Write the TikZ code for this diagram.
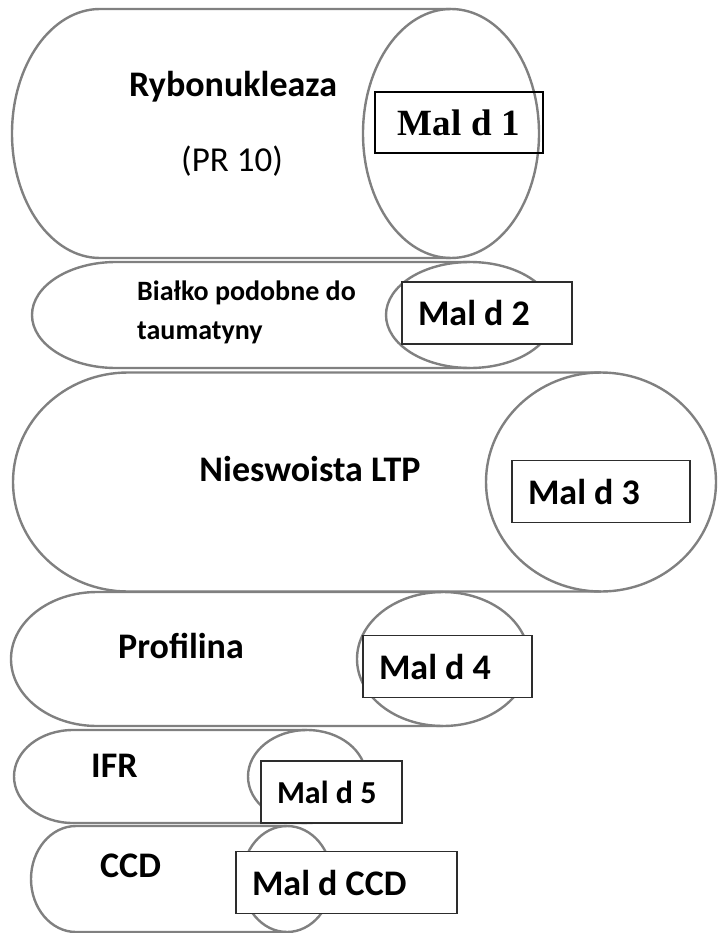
\documentclass[tikz,border=0pt]{standalone}
\usepackage{fontspec}
\newfontfamily\labfont{Carlito}
\newfontfamily\malfont{Liberation Serif}
\definecolor{rim}{RGB}{128,128,128}
\definecolor{boxline}{RGB}{45,45,45}

% allergen cylinder: {left cap x}{end ellipse x}{centre y}{x radius}{y radius}
\newcommand{\allergen}[5]{%
  \draw[rimline] (#2,#3-#5) -- (#1,#3-#5)
    arc[start angle=270,end angle=90,x radius=#4,y radius=#5] -- (#2,#3+#5);
  \draw[rimline] (#2,#3) ellipse[x radius=#4,y radius=#5];
}

\begin{document}
\begin{tikzpicture}[x=1pt,y=-1pt,
            rimline/.style={draw=rim,line width=2.4pt},
            lab/.style={font=\labfont\bfseries\fontsize{36}{40}\selectfont,inner sep=0pt,anchor=base west},
            small/.style={lab,font=\labfont\bfseries\fontsize{28}{32}\selectfont},
            malbox/.style={draw=boxline,fill=white,line width=1.4pt,inner xsep=16pt,inner ysep=0pt,
                           minimum height=62pt,align=left,font=\labfont\bfseries\fontsize{36}{40}\selectfont,
                           execute at begin node={\spaceskip=0pt\xspaceskip=0pt}}
          ]
          \useasboundingbox (0,0) rectangle (717,933);

          %cylinders
          \allergen{100}{451}{133.5}{88}{124.5}
          \allergen{116}{470}{315}{84}{53}
          \allergen{128}{601}{482}{115}{109.5}
          \allergen{97}{443}{659}{86}{67}
          \allergen{73}{307}{776.5}{59}{46.5}
          \allergen{76}{287}{879}{45}{53}

          %labels
          \node[lab,anchor=base] (ryb) at (233,97) {Rybonukleaza};
          \node[lab,anchor=base,font=\labfont\fontsize{35}{40}\selectfont] (pr10) at (232,172) {(PR 10)};
          \node[small] (bia) at (137,300) {Białko podobne do};
          \node[small] (tau) at (137,339) {taumatyny};
          \node[lab,anchor=base] (ltp) at (310,481) {Nieswoista LTP};
          \node[lab] (pro) at (118,658) {Profilina};
          \node[lab] (ifr) at (91,777) {IFR};
          \node[lab] (ccd) at (100,877) {CCD};

          %allergen boxes
          \node[malbox,fill=none,draw=black,text width=136pt,align=center,
                font=\malfont\bfseries\fontsize{37}{40}\selectfont,minimum height=61pt] (mal1) at (459,122.5) {Mal d 1};
          \node[malbox,text width=138pt] (mal2) at (487,313) {Mal d 2};
          \node[malbox,text width=146pt] (mal3) at (601,491.5) {Mal d 3};
          \node[malbox,text width=137pt] (mal4) at (447.5,666.5) {Mal d 4};
          \node[malbox,text width=109pt,font=\labfont\bfseries\fontsize{32}{36}\selectfont] (mal5) at (331.5,792) {Mal d 5};
          \node[malbox,text width=189pt] (malccd) at (346.5,882.5) {Mal d CCD};
\end{tikzpicture}
\end{document}
